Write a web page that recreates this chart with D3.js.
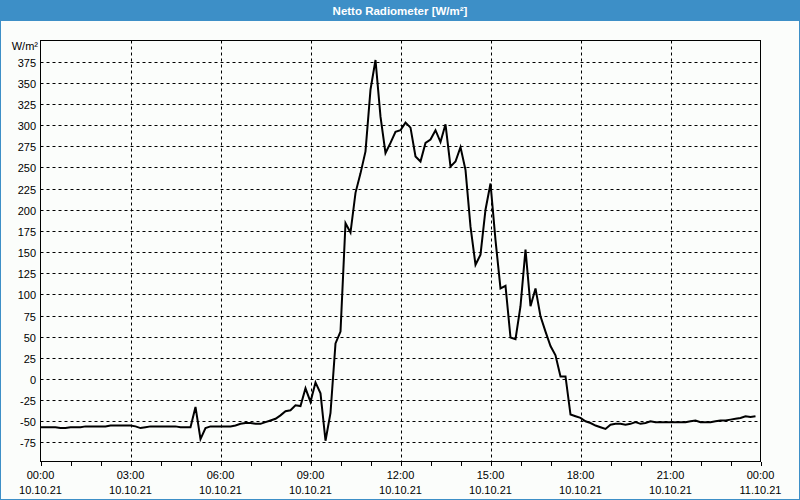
<!DOCTYPE html>
<html>
<head>
<meta charset="utf-8">
<script src="https://cdn.jsdelivr.net/npm/d3@7"></script>
<style>
  html, body { margin: 0; padding: 0; background: #fbfdfb; }
  svg { display: block; }
  text { font-family: "Liberation Sans", "DejaVu Sans", sans-serif; }
</style>
</head>
<body>
<svg id="chart" width="800" height="500"></svg>
<script>
// ---- data ----
const title = "Netto Radiometer [W/m²]";
const unitLabel = "W/m²";
const startHour = 0;          // 10.10.21 00:00
const stepMinutes = 10;       // sample interval
const values = [
  -57, -57, -57, -57, -58, -58, -57, -57, -57, -56,
  -56, -56, -56, -56, -55, -55, -55, -55, -55, -56,
  -58, -57, -56, -56, -56, -56, -56, -56, -57, -57,
  -57, -33, -71, -58, -56, -56, -56, -56, -56, -55,
  -53, -52, -52, -53, -53, -51, -49, -47, -43, -38,
  -37, -31, -32, -11, -27, -4, -17, -73, -40, 42,
  56, 184, 173, 220, 243, 269, 342, 377, 310, 267,
  279, 292, 294, 303, 297, 263, 257, 279, 283, 294,
  280, 301, 251, 257, 274, 247, 180, 135, 147, 200,
  231, 164, 107, 110, 49, 47, 86, 153, 86, 107,
  74, 56, 39, 28, 3, 3, -42, -44, -46, -50,
  -52, -55, -57, -59, -54, -53, -53, -54, -53, -51,
  -53, -52, -50, -51, -51, -51, -51, -51, -51, -51,
  -50, -49, -51, -51, -51, -50, -49, -49, -48, -47,
  -46, -44, -45, -44
];
const yTicks = [-75, -50, -25, 0, 25, 50, 75, 100, 125, 150, 175, 200, 225, 250, 275, 300, 325, 350, 375];
const xTickHours = [0, 3, 6, 9, 12, 15, 18, 21, 24];
const xTimeLabels = ["00:00", "03:00", "06:00", "09:00", "12:00", "15:00", "18:00", "21:00", "00:00"];
const xDateLabels = ["10.10.21", "10.10.21", "10.10.21", "10.10.21", "10.10.21", "10.10.21", "10.10.21", "10.10.21", "11.10.21"];
const yDomain = [-97.5, 400];
const xDomain = [0, 24];

// ---- layout ----
const W = 800, H = 500;
const plot = { left: 40.5, right: 760.5, top: 40.5, bottom: 461.5 };
const svg = d3.select("#chart");

const x = d3.scaleLinear().domain(xDomain).range([plot.left, plot.right]);
const y = d3.scaleLinear().domain(yDomain).range([plot.bottom, plot.top]);

// background
svg.append("rect").attr("x", 0).attr("y", 0).attr("width", W).attr("height", H).attr("fill", "#fbfdfb");

// title bar
svg.append("rect").attr("x", 0).attr("y", 0).attr("width", W).attr("height", 21).attr("fill", "#3d8fc7");
svg.append("text").attr("x", 400).attr("y", 14.5).attr("text-anchor", "middle")
  .attr("fill", "#ffffff").attr("font-weight", "bold").attr("font-size", "11.5px").text(title);

// window border
svg.append("rect").attr("x", 0.5).attr("y", 0.5).attr("width", W - 1).attr("height", H - 1)
  .attr("fill", "none").attr("stroke", "#3d8fc7").attr("stroke-width", 1);

// grid
const grid = svg.append("g").attr("stroke", "#000").attr("stroke-width", 1).attr("stroke-dasharray", "3,3");
grid.selectAll("line.h").data(yTicks).join("line")
  .attr("x1", plot.left).attr("x2", plot.right)
  .attr("y1", d => Math.round(y(d)) + 0.5).attr("y2", d => Math.round(y(d)) + 0.5);
grid.selectAll("line.v").data(xTickHours.slice(1, -1)).join("line")
  .attr("y1", plot.top).attr("y2", plot.bottom)
  .attr("x1", d => Math.round(x(d)) + 0.5).attr("x2", d => Math.round(x(d)) + 0.5);

// y tick labels
svg.append("g").selectAll("text").data(yTicks).join("text")
  .attr("x", 36).attr("y", d => Math.round(y(d)) + 4.5)
  .attr("text-anchor", "end").attr("font-size", "11px").attr("fill", "#000")
  .text(d => d);
svg.append("text").attr("x", 38).attr("y", 50).attr("text-anchor", "end")
  .attr("font-size", "11px").attr("fill", "#000").text(unitLabel);

// x axis with hourly ticks
const xAxis = d3.axisBottom(x)
  .tickValues(d3.range(0, 25, 1))
  .tickSize(4)
  .tickFormat("");
const xg = svg.append("g").attr("transform", `translate(0,${plot.bottom})`).call(xAxis);
xg.select(".domain").remove();
xg.selectAll(".tick line").attr("stroke", "#000").attr("shape-rendering", "crispEdges");

// x labels
const xl = svg.append("g");
xl.selectAll("text.t").data(xTickHours).join("text")
  .attr("x", d => x(d)).attr("y", 479).attr("text-anchor", "middle")
  .attr("font-size", "11px").attr("fill", "#000").text((d, i) => xTimeLabels[i]);
xl.selectAll("text.d").data(xTickHours).join("text").attr("class", "d")
  .attr("x", d => x(d)).attr("y", 494).attr("text-anchor", "middle")
  .attr("font-size", "11px").attr("fill", "#000").text((d, i) => xDateLabels[i]);

// plot frame
svg.append("rect").attr("x", plot.left).attr("y", plot.top)
  .attr("width", plot.right - plot.left).attr("height", plot.bottom - plot.top)
  .attr("fill", "none").attr("stroke", "#000").attr("stroke-width", 1).attr("shape-rendering", "crispEdges");

// data line
const line = d3.line()
  .x((d, i) => x(startHour + i * stepMinutes / 60))
  .y(d => y(d));
svg.append("path").datum(values)
  .attr("d", line)
  .attr("fill", "none").attr("stroke", "#000").attr("stroke-width", 2)
  .attr("stroke-linejoin", "miter");
</script>
</body>
</html>
